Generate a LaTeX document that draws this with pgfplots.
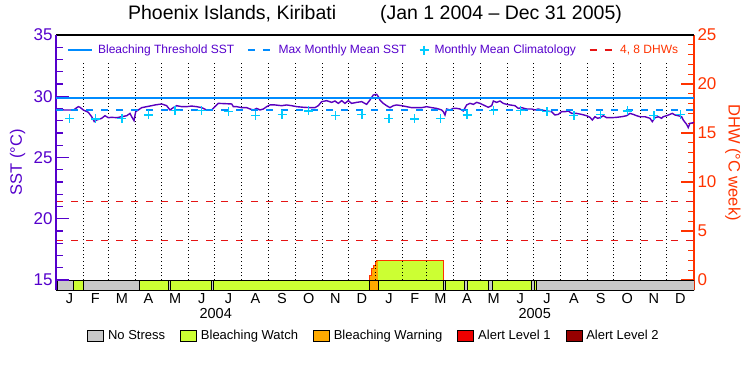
\documentclass[border=0pt]{standalone}
\usepackage{fontspec}
\setmainfont{Liberation Sans}
\usepackage{pgfplots}
\pgfplotsset{compat=1.18}
\definecolor{sstpurple}{RGB}{85,0,204}
\definecolor{sstline}{RGB}{90,0,190}
\definecolor{dhwred}{RGB}{255,51,0}
\definecolor{dhwdash}{RGB}{230,20,20}
\definecolor{thrblue}{RGB}{0,140,255}
\definecolor{climcyan}{RGB}{0,204,255}
\definecolor{nostress}{RGB}{200,200,200}
\definecolor{watch}{RGB}{204,255,51}
\definecolor{warning}{RGB}{255,170,0}
\definecolor{alertone}{RGB}{238,0,0}
\definecolor{alerttwo}{RGB}{150,0,0}
\begin{document}
\begin{tikzpicture}
\path[use as bounding box] (0pt,0pt) rectangle (750pt,-375pt);
% ---------------- DHW axis (right) with stress bar ----------------
\begin{axis}[
  at={(56pt,-290pt)}, anchor=south west,
  scale only axis, width=638pt, height=255pt,
  xmin=0, xmax=731, ymin=-1.0204, ymax=25,
  axis x line*=bottom, axis y line*=right,
  axis line style={-, line width=1.3pt},
  x axis line style={black}, y axis line style={dhwred},
  /pgf/number format/assume math mode=true,
  xtick={15.5,45,75.5,106,136.5,167,197.5,228.5,259,289.5,320,350.5,381.5,411,440.5,471,501.5,532,562.5,593.5,624,654.5,685,715.5},
  xticklabels={J,F,M,A,M,J,J,A,S,O,N,D,J,F,M,A,M,J,J,A,S,O,N,D},
  xtick style={draw=none},
  extra x ticks={183,548.5}, extra x tick labels={2004,2005},
  extra x tick style={xtick style={draw=none}, major tick length=0pt, tick label style={yshift=-15pt}},
  xticklabel style={font=\fontsize{14.5}{14.5}\selectfont, text=black},
  xtick pos=bottom,
  ytick={0,5,10,15,20,25}, minor y tick num=4,
  ytick pos=right, yticklabel pos=right,
  ytick style={dhwred, line width=1.2pt},
  yticklabel style={font=\fontsize{17}{17}\selectfont, text=dhwred},
  major tick length=13pt, minor tick length=6.5pt,
  ylabel={DHW (°C week)},
  ylabel style={font=\fontsize{16.5}{16.5}\selectfont, text=dhwred, at={(axis description cs:1.061,0.5)}, anchor=center, rotate=180},
  legend columns=5,
  legend style={at={(axis description cs:0.044,-0.18)}, anchor=west, draw=none, fill=none,
    font=\fontsize{13}{13}\selectfont, legend cell align=left,
    /tikz/every odd column/.append style={column sep=2pt},
    /tikz/every even column/.append style={column sep=13pt}},
  legend image code/.code={\draw[#1] (0pt,-5.5pt) rectangle (16pt,5.5pt);},
]
\addlegendimage{fill=nostress, draw=black, line width=0.8pt}
\addlegendentry{No Stress}
\addlegendimage{fill=watch, draw=black, line width=0.8pt}
\addlegendentry{Bleaching Watch}
\addlegendimage{fill=warning, draw=black, line width=0.8pt}
\addlegendentry{Bleaching Warning}
\addlegendimage{fill=alertone, draw=black, line width=0.8pt}
\addlegendentry{Alert Level 1}
\addlegendimage{fill=alerttwo, draw=black, line width=0.8pt}
\addlegendentry{Alert Level 2}
% DHW areas
\addplot[fill=warning, draw=none, forget plot] coordinates {(359,0) (359,0.51) (361.7,0.51) (361.7,1.19) (363.5,1.19) (363.5,1.53) (365.5,1.53) (365.5,1.87) (367.4,1.87) (367.4,1.94) (369.3,1.94) (369.3,0)} -- cycle;
\addplot[fill=watch, draw=none, forget plot] coordinates {(369.3,0) (369.3,1.94) (443.7,1.94) (443.7,0)} -- cycle;
\addplot[dhwred, line width=1pt, forget plot] coordinates {(359,0) (359,0.51) (361.7,0.51) (361.7,1.19) (363.5,1.19) (363.5,1.53) (365.5,1.53) (365.5,1.87) (367.4,1.87) (367.4,1.94) (443.7,1.94) (443.7,0)};
% month boundaries
\addplot[ycomb, black, line width=1pt, dash pattern=on 1pt off 2.6pt, forget plot] coordinates {
(31,22.14) (60,22.14) (91,22.14) (121,22.14) (152,22.14) (182,22.14) (213,22.14) (244,22.14) (274,22.14) (305,22.14) (335,22.14)
(366,22.14) (397,22.14) (425,22.14) (456,22.14) (486,22.14) (517,22.14) (547,22.14) (578,22.14) (609,22.14) (639,22.14) (670,22.14) (700,22.14)};
% 4 and 8 DHW lines
\addplot[dhwdash, line width=1.2pt, dash pattern=on 7pt off 8pt, forget plot] coordinates {(0,4) (731,4)};
\addplot[dhwdash, line width=1.2pt, dash pattern=on 7pt off 8pt, forget plot] coordinates {(0,8) (731,8)};
% stress bar
\pgfplotsset{every axis plot/.append style={line width=1pt}}
\addplot[fill=watch, draw=black, forget plot] coordinates {(0,-1.0204) (0,0) (2,0) (2,-1.0204)} -- cycle;
\addplot[fill=nostress, draw=black, forget plot] coordinates {(2,-1.0204) (2,0) (20,0) (20,-1.0204)} -- cycle;
\addplot[fill=watch, draw=black, forget plot] coordinates {(20,-1.0204) (20,0) (31,0) (31,-1.0204)} -- cycle;
\addplot[fill=nostress, draw=black, forget plot] coordinates {(31,-1.0204) (31,0) (96,0) (96,-1.0204)} -- cycle;
\addplot[fill=watch, draw=black, forget plot] coordinates {(96,-1.0204) (96,0) (129,0) (129,-1.0204)} -- cycle;
\addplot[fill=nostress, draw=black, forget plot] coordinates {(129,-1.0204) (129,0) (131.5,0) (131.5,-1.0204)} -- cycle;
\addplot[fill=watch, draw=black, forget plot] coordinates {(131.5,-1.0204) (131.5,0) (178.5,0) (178.5,-1.0204)} -- cycle;
\addplot[fill=nostress, draw=black, forget plot] coordinates {(178.5,-1.0204) (178.5,0) (180.5,0) (180.5,-1.0204)} -- cycle;
\addplot[fill=watch, draw=black, forget plot] coordinates {(180.5,-1.0204) (180.5,0) (359,0) (359,-1.0204)} -- cycle;
\addplot[fill=warning, draw=black, forget plot] coordinates {(359,-1.0204) (359,0) (369.3,0) (369.3,-1.0204)} -- cycle;
\addplot[fill=watch, draw=black, forget plot] coordinates {(369.3,-1.0204) (369.3,0) (444,0) (444,-1.0204)} -- cycle;
\addplot[fill=nostress, draw=black, forget plot] coordinates {(444,-1.0204) (444,0) (446.5,0) (446.5,-1.0204)} -- cycle;
\addplot[fill=watch, draw=black, forget plot] coordinates {(446.5,-1.0204) (446.5,0) (468,0) (468,-1.0204)} -- cycle;
\addplot[fill=nostress, draw=black, forget plot] coordinates {(468,-1.0204) (468,0) (471,0) (471,-1.0204)} -- cycle;
\addplot[fill=watch, draw=black, forget plot] coordinates {(471,-1.0204) (471,0) (495,0) (495,-1.0204)} -- cycle;
\addplot[fill=nostress, draw=black, forget plot] coordinates {(495,-1.0204) (495,0) (500,0) (500,-1.0204)} -- cycle;
\addplot[fill=watch, draw=black, forget plot] coordinates {(500,-1.0204) (500,0) (545,0) (545,-1.0204)} -- cycle;
\addplot[fill=nostress, draw=black, forget plot] coordinates {(545,-1.0204) (545,0) (548,0) (548,-1.0204)} -- cycle;
\addplot[fill=watch, draw=black, forget plot] coordinates {(548,-1.0204) (548,0) (551,0) (551,-1.0204)} -- cycle;
\addplot[fill=nostress, draw=black, forget plot] coordinates {(551,-1.0204) (551,0) (731,0) (731,-1.0204)} -- cycle;
\end{axis}
% ---------------- SST axis (left) ----------------
\begin{axis}[
  at={(56pt,-290pt)}, anchor=south west,
  scale only axis, width=638pt, height=255pt,
  xmin=0, xmax=731, ymin=14.1837, ymax=35,
  axis x line*=top, axis y line*=left,
  axis line style={-, line width=1.3pt},
  x axis line style={black}, y axis line style={sstpurple},
  /pgf/number format/assume math mode=true,
  xtick=\empty,
  ytick={15,20,25,30,35}, minor y tick num=4,
  ytick pos=left,
  ytick style={sstpurple, line width=1.2pt},
  yticklabel style={font=\fontsize{17}{17}\selectfont, text=sstpurple},
  major tick length=13pt, minor tick length=7pt,
  ylabel={SST (°C)},
  ylabel style={font=\fontsize{16.5}{16.5}\selectfont, text=sstpurple, at={(axis description cs:-0.06,0.5)}, anchor=center},
  title={Phoenix Islands, Kiribati\hspace{44pt}(Jan 1 2004 -- Dec 31 2005)},
  title style={font=\fontsize{19.5}{19.5}\selectfont, at={(axis description cs:0.5,1)}, anchor=base, yshift=9pt},
  legend columns=4,
  legend style={at={(axis description cs:0.012,0.941)}, anchor=west, draw=none, fill=none,
    font=\fontsize{12}{12}\selectfont,
    /tikz/every odd column/.append style={column sep=4pt},
    /tikz/every even column/.append style={column sep=11pt}},
  legend image code/.code={\draw[mark repeat=2,mark phase=2,#1] plot coordinates {(0pt,0pt) (12pt,0pt) (24pt,0pt)};},
]
\addplot[sstline, line width=1.4pt, forget plot] coordinates {
(0,28.90) (10,28.88) (20,28.88) (25.6,29.15) (27.5,29.10) (31.3,28.88) (37,28.69) (40.9,28.33) (43.9,27.93) (46.6,28.06)
(52.3,28.20) (56.1,28.41) (59.9,28.25) (63.8,28.28) (69.5,28.25) (75.2,28.33) (81,28.41) (84.8,28.60) (86.7,28.33) (89.4,28.01)
(91.3,28.74) (94.3,28.88) (98.2,29.07) (103.9,29.15) (109.6,29.23) (113.4,29.29) (121.1,29.37) (126.8,29.23) (130.6,28.88) (134.4,29.07)
(138.3,29.23) (144,29.15) (149.7,29.15) (155.4,29.20) (161.2,29.15) (166.9,29.07) (172.6,28.88) (178.4,28.88) (182.2,29.15) (186,29.42)
(201.3,29.37) (203.2,29.15) (207,29.15) (212.7,29.07) (218.5,29.07) (222.3,28.96) (226.1,28.88) (229.9,29.01) (233.7,28.88) (237.6,28.96)
(241.4,29.15) (245.2,29.29) (250.9,29.29) (258.6,29.23) (264.3,29.29) (270,29.23) (275.8,29.15) (283.4,29.10) (291,29.07) (296.7,29.07)
(300.5,29.23) (304.4,29.56) (310.1,29.64) (315.8,29.50) (319.6,29.61) (323.5,29.42) (327.3,29.64) (331.1,29.42) (334.9,29.64) (338.7,29.42)
(344.5,29.50) (350.2,29.56) (355.9,29.34) (359.7,29.69) (363.5,30.10) (367.4,30.16) (369.3,29.97) (371.2,29.69) (375,29.42) (378.8,29.23)
(382.7,29.07) (386.5,29.23) (390.3,29.29) (396,29.23) (401.7,29.15) (407.5,29.07) (413.2,29.07) (418.9,29.07) (424.7,29.15) (430.4,29.07)
(436.1,29.01) (441.9,28.88) (443.8,28.74) (445.7,28.47) (447.6,28.96) (451.4,28.88) (455.2,29.01) (459.1,29.01) (462.9,28.96) (466.7,28.80)
(470.5,29.29) (474.3,29.42) (478.2,29.34) (482,29.50) (485.8,29.42) (489.6,29.29) (495.3,29.10) (499.2,29.23) (501.1,29.61) (504.9,29.50)
(508.7,29.61) (512.5,29.42) (516.3,29.34) (520.2,29.29) (525.9,29.23) (529.7,29.01) (533.5,29.07) (539.3,28.96) (545,28.96) (548.8,28.88)
(552.6,28.96) (556.4,28.88) (562.2,28.80) (567.9,28.74) (571.7,28.47) (575.5,28.52) (579.3,28.74) (583.1,28.74) (587,28.80) (590.8,28.60)
(596.5,28.60) (602.2,28.52) (608,28.41) (611.8,28.28) (614.5,28.06) (617.5,28.33) (620.6,28.20) (623.3,28.25) (627.1,28.41) (630.9,28.25)
(636.6,28.25) (642.4,28.28) (648.1,28.33) (653.8,28.41) (657.6,28.60) (661.4,28.52) (665.3,28.41) (669.1,28.33) (674.8,28.33) (680.5,28.20)
(683.2,27.93) (686.3,28.25) (690.1,28.33) (693.9,28.20) (695.8,28.33) (699.6,28.41) (703.4,28.52) (706.1,28.60) (709.2,28.47) (713,28.41)
(716.8,28.33) (718.7,28.06) (722.5,27.71) (724.4,27.44) (726.3,27.79) (730.1,27.84) (731,27.87)};
\addplot[thrblue, line width=1.3pt] coordinates {(0,29.85) (731,29.85)};
\addlegendentry{\textcolor{sstpurple}{Bleaching Threshold SST}}
\addplot[thrblue, line width=1.3pt, dash pattern=on 7pt off 8pt] coordinates {(0,28.87) (731,28.87)};
\addlegendentry{\textcolor{sstpurple}{Max Monthly Mean SST}}
\addplot[climcyan, only marks, mark=+, mark size=4.5pt, line width=1.3pt] coordinates {
(15.5,28.20) (45,28.15) (75.5,28.20) (106,28.47) (136.5,28.85) (167,28.83) (197.5,28.74) (228.5,28.43) (259,28.52) (289.5,28.80) (320,28.43) (350.5,28.50)
(381.5,28.20) (411,28.15) (440.5,28.20) (471,28.47) (501.5,28.85) (532,28.83) (562.5,28.74) (593.5,28.43) (624,28.52) (654.5,28.80) (685,28.43) (715.5,28.50)};
\addlegendentry{\textcolor{sstpurple}{Monthly Mean Climatology}}
\addlegendimage{dhwdash, line width=1.2pt, dash pattern=on 7pt off 8pt}
\addlegendentry{\textcolor{dhwred}{4, 8 DHWs}}
\end{axis}
\end{tikzpicture}
\end{document}
